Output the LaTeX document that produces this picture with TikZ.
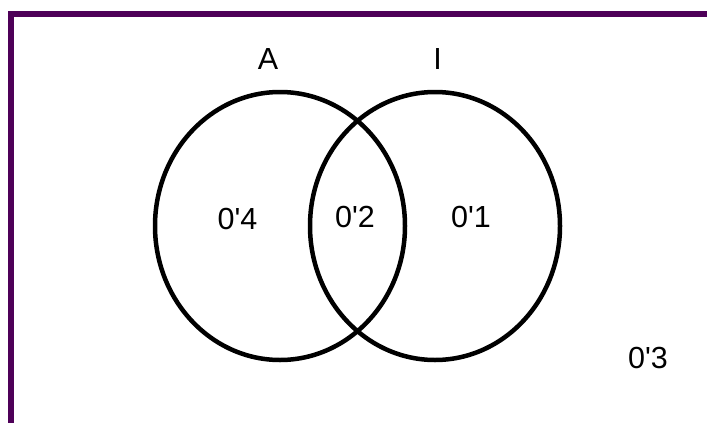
\documentclass[tikz,border=0pt]{standalone}
\usepackage{fontspec}
\newfontfamily\plainsans{Liberation Sans}
\usetikzlibrary{shapes.geometric}
\definecolor{framepurple}{RGB}{78,0,88}
\begin{document}
\begin{tikzpicture}[x=1pt,y=-1pt,
  setring/.style={draw=black,line width=4.5pt},
  lbl/.style={inner sep=0pt,text height=0.72em,text depth=0pt,font=\plainsans\fontsize{30.5}{34}\selectfont}]
\useasboundingbox (0,0) rectangle (707,423);
\clip (0,0) rectangle (707,423);
\fill[white] (0,0) rectangle (707,423);
\draw[framepurple,line width=5.5pt] (11,14) rectangle (740,460);
\node[setring,ellipse,minimum width=250pt,minimum height=268pt,inner sep=0pt] (setA) at (280,226) {};
\node[setring,ellipse,minimum width=250pt,minimum height=268pt,inner sep=0pt] (setI) at (435,226) {};
\node[lbl] (labA) at (268,66) {A};
\node[lbl] (labI) at (437.5,66) {I};
\node[lbl] (v4) at (237.5,226) {0'4};
\node[lbl] (v2) at (355,224) {0'2};
\node[lbl] (v1) at (471,224) {0'1};
\node[lbl] (v3) at (648,365) {0'3};
\end{tikzpicture}
\end{document}
